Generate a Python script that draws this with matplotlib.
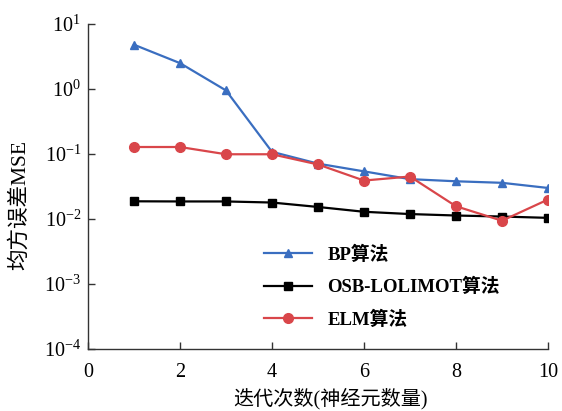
import matplotlib
matplotlib.use("Agg")
import matplotlib.pyplot as plt
from matplotlib.ticker import LogLocator, NullLocator

plt.rcParams['font.family'] = ['Liberation Serif', 'Noto Sans CJK SC']
plt.rcParams['mathtext.fontset'] = 'custom'
plt.rcParams['mathtext.rm'] = 'Liberation Serif'
plt.rcParams['axes.unicode_minus'] = False

# iterations (number of neurons)
x = [1, 2, 3, 4, 5, 6, 7, 8, 9, 10]

mse_bp = [4.8, 2.5, 0.95, 0.108, 0.071, 0.054, 0.041, 0.038, 0.036, 0.030]
mse_osb = [0.0187, 0.0186, 0.0186, 0.0179, 0.0153, 0.0129, 0.0119, 0.0113, 0.0109, 0.0104]
mse_elm = [0.128, 0.128, 0.099, 0.099, 0.069, 0.039, 0.045, 0.0157, 0.0094, 0.0199]

labels = ['BP算法', 'OSB-LOLIMOT算法', 'ELM算法']
xticks = [0, 2, 4, 6, 8, 10]

fig = plt.figure(figsize=(5.62, 4.11), dpi=100)
ax = fig.add_axes([0.1566, 0.151, 0.8184, 0.7906])

ax.plot(x, mse_bp, '-^', color='#3a6ec0', lw=1.6, ms=6, label=labels[0])
ax.plot(x, mse_osb, '-s', color='black', lw=1.6, ms=5.5, label=labels[1])
ax.plot(x, mse_elm, '-o', color='#d9464a', lw=1.6, ms=7, label=labels[2])

ax.set_yscale('log')
ax.set_ylim(1e-4, 1e1)
ax.set_xlim(0, 10)
ax.set_xticks(xticks)
ax.yaxis.set_major_locator(LogLocator(base=10, numticks=10))
ax.yaxis.set_minor_locator(NullLocator())

for s in ['top', 'right']:
    ax.spines[s].set_visible(False)
for s in ['left', 'bottom']:
    ax.spines[s].set_color('#333333')
    ax.spines[s].set_linewidth(1.0)

ax.tick_params(direction='in', length=5, width=1, color='#333333', labelsize=14.5)
ax.tick_params(axis='x', pad=10)
ax.tick_params(axis='y', pad=5)

ax.set_xlabel('迭代次数(神经元数量)', fontsize=14.5)
ax.set_ylabel('均方误差MSE', fontsize=15.5)
ax.xaxis.set_label_coords(0.528, -0.12)
ax.yaxis.set_label_coords(-0.126, 0.443)

leg = ax.legend(loc='upper left', bbox_to_anchor=(0.345, 0.37), frameon=False,
                prop={'weight': 'bold', 'size': 13.5}, handlelength=2.6,
                handletextpad=0.8, labelspacing=0.75)

fig.savefig('out.png', dpi=100)
